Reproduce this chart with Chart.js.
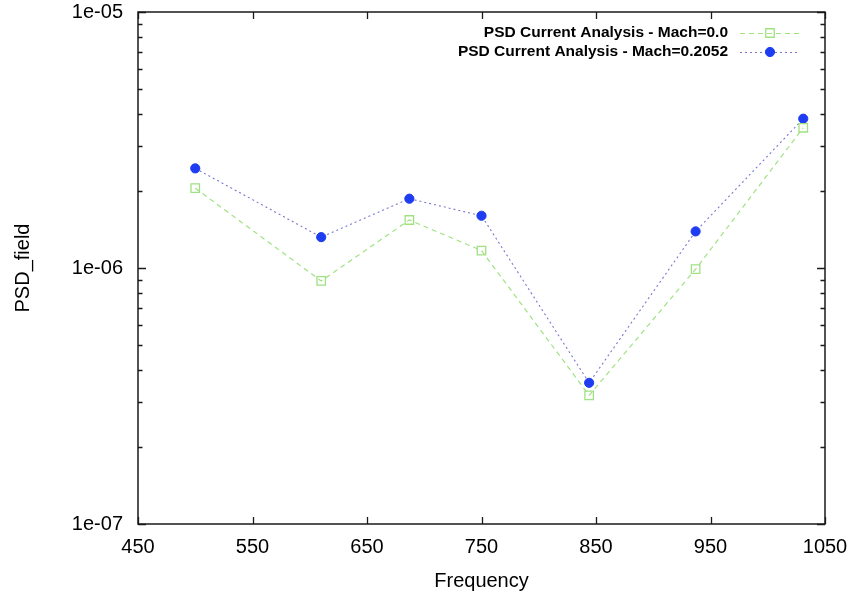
<!DOCTYPE html>
<html>
<head>
<meta charset="utf-8">
<script src="https://cdn.jsdelivr.net/npm/chart.js@4/dist/chart.umd.min.js"></script>
<style>
  html, body { margin: 0; padding: 0; background: #fff; }
  #wrap { width: 859px; height: 598px; }
</style>
</head>
<body>
<div id="wrap"><canvas id="c" width="859" height="598"></canvas></div>
<script>
// Frequency sweep and PSD values for the two Mach numbers
const frequency = [500, 610, 687, 750, 844, 937, 1031];
const psdMach00 = [2.05e-6, 0.89e-6, 1.54e-6, 1.17e-6, 3.18e-7, 0.99e-6, 3.53e-6];
const psdMach02052 = [2.45e-6, 1.32e-6, 1.865e-6, 1.60e-6, 3.56e-7, 1.39e-6, 3.83e-6];
const seriesLabels = ['PSD Current Analysis - Mach=0.0', 'PSD Current Analysis - Mach=0.2052'];
const xTickValues = [450, 550, 650, 750, 850, 950, 1050];
const yDecades = [1e-7, 1e-6, 1e-5];
const xTitle = 'Frequency';
const yTitle = 'PSD_field';

const toPoints = (xs, ys) => xs.map((x, i) => ({ x: x, y: ys[i] }));

function expLabel(v) {
  const e = Math.round(Math.log10(v));
  return '1e' + (e < 0 ? '-' : '+') + String(Math.abs(e)).padStart(2, '0');
}

const FONT = '"Liberation Sans", Arial, Helvetica, sans-serif';
Chart.defaults.font.family = FONT;
Chart.defaults.color = '#000';

// gnuplot-style frame: box on all four sides with inward major/minor ticks
const framePlugin = {
  id: 'frame',
  afterDatasetsDraw(chart) {
    const { ctx, chartArea: a, scales: { x, y } } = chart;
    ctx.save();
    ctx.strokeStyle = '#1a1a1a';
    ctx.lineWidth = 1.3;
    ctx.beginPath();
    xTickValues.forEach(v => {
      const px = Math.round(x.getPixelForValue(v)) + 0.5;
      ctx.moveTo(px, a.bottom); ctx.lineTo(px, a.bottom - 7);
      ctx.moveTo(px, a.top); ctx.lineTo(px, a.top + 7);
    });
    yDecades.forEach(d => {
      for (let k = 1; k <= 9; k++) {
        const v = d * k;
        if (v > yDecades[yDecades.length - 1]) break;
        const len = k === 1 ? 8 : 4.5;
        const py = Math.round(y.getPixelForValue(v)) + 0.5;
        ctx.moveTo(a.left, py); ctx.lineTo(a.left + len, py);
        ctx.moveTo(a.right, py); ctx.lineTo(a.right - len, py);
      }
    });
    ctx.stroke();
    ctx.lineWidth = 1.5;
    ctx.strokeRect(a.left, a.top, a.right - a.left, a.bottom - a.top);
    ctx.restore();
  }
};

// Key in the upper right: label text followed by a line/marker sample
const keyPlugin = {
  id: 'key',
  afterDraw(chart) {
    const { ctx } = chart;
    const rows = [33, 52];
    const textRight = 728, sampleL = 740, sampleR = 800, sampleMid = 770;
    ctx.save();
    ctx.font = 'bold 15.5px ' + FONT;
    ctx.textAlign = 'right';
    ctx.textBaseline = 'middle';
    chart.data.datasets.forEach((ds, i) => {
      const yy = rows[i];
      ctx.fillStyle = '#000';
      ctx.fillText(ds.label, textRight, yy);
      ctx.strokeStyle = ds.borderColor;
      ctx.lineWidth = ds.borderWidth;
      ctx.setLineDash(ds.borderDash);
      ctx.beginPath();
      ctx.moveTo(sampleL, yy + 0.5); ctx.lineTo(sampleR, yy + 0.5);
      ctx.stroke();
      ctx.setLineDash([]);
      ctx.fillStyle = ds.pointBackgroundColor;
      ctx.strokeStyle = ds.pointBorderColor;
      ctx.lineWidth = ds.pointBorderWidth;
      ctx.beginPath();
      if (ds.pointStyle === 'rect') {
        const h = ds.pointRadius * Math.SQRT1_2;
        ctx.rect(sampleMid - h, yy - h, 2 * h, 2 * h);
        ctx.stroke();
      } else {
        ctx.arc(sampleMid, yy, ds.pointRadius, 0, Math.PI * 2);
        ctx.fill();
        ctx.stroke();
      }
    });
    ctx.restore();
  }
};

new Chart(document.getElementById('c'), {
  type: 'scatter',
  data: {
    datasets: [
      {
        label: seriesLabels[0],
        data: toPoints(frequency, psdMach00),
        showLine: true,
        borderColor: 'rgb(160,226,130)',
        borderWidth: 1.2,
        borderDash: [5, 4],
        pointStyle: 'rect',
        pointRadius: 6,
        pointHoverRadius: 6,
        pointBorderWidth: 1.3,
        pointBorderColor: 'rgb(160,225,130)',
        pointBackgroundColor: 'rgba(0,0,0,0)'
      },
      {
        label: seriesLabels[1],
        data: toPoints(frequency, psdMach02052),
        showLine: true,
        borderColor: 'rgb(120,120,205)',
        borderWidth: 1.1,
        borderDash: [2, 3],
        pointStyle: 'circle',
        pointRadius: 4.6,
        pointHoverRadius: 4.6,
        pointBorderWidth: 1,
        pointBorderColor: 'rgb(30,60,240)',
        pointBackgroundColor: 'rgb(30,60,240)'
      }
    ]
  },
  options: {
    responsive: false,
    animation: false,
    events: [],
    layout: { padding: { top: 1, right: 34, left: 0, bottom: 0 } },
    plugins: { legend: { display: false }, tooltip: { enabled: false } },
    scales: {
      x: {
        type: 'linear',
        min: 450,
        max: 1050,
        grid: { display: false, drawTicks: false },
        border: { display: false },
        afterBuildTicks(scale) { scale.ticks = xTickValues.map(v => ({ value: v })); },
        afterFit(scale) { scale.height = 74; },
        ticks: {
          padding: 11,
          font: { size: 20 },
          maxRotation: 0,
          autoSkip: false,
          callback: v => String(v)
        },
        title: { display: true, text: xTitle, font: { size: 20 }, padding: { top: 0, bottom: 5 } }
      },
      y: {
        type: 'logarithmic',
        min: 1e-7,
        max: 1e-5,
        grid: { display: false, drawTicks: false },
        border: { display: false },
        afterBuildTicks(scale) { scale.ticks = yDecades.map(v => ({ value: v })); },
        afterFit(scale) {
          scale.width = 138;
          scale.paddingTop = 12;
          scale.paddingBottom = 12;
        },
        ticks: {
          padding: 15,
          font: { size: 20 },
          autoSkip: false,
          callback: v => expLabel(v)
        },
        title: { display: true, text: yTitle, font: { size: 20 }, padding: { top: 11, bottom: 0 } }
      }
    }
  },
  plugins: [framePlugin, keyPlugin]
});
</script>
</body>
</html>
